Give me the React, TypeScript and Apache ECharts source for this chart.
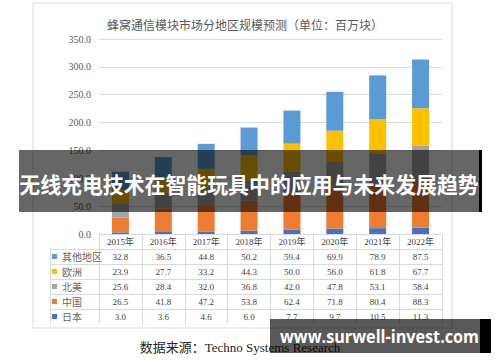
import React, { useEffect, useRef } from "react";
import * as echarts from "echarts";

const years = ["2015年", "2016年", "2017年", "2018年", "2019年", "2020年", "2021年", "2022年"];
const otherRegions = [32.8, 36.5, 44.8, 50.2, 59.4, 69.9, 78.9, 87.5];
const europe = [23.9, 27.7, 33.2, 44.3, 50.0, 56.0, 61.8, 67.7];
const northAmerica = [25.6, 28.4, 32.0, 36.8, 42.0, 47.8, 53.1, 58.4];
const china = [26.5, 41.8, 47.2, 53.8, 62.4, 71.8, 80.4, 88.3];
const japan = [3.0, 3.6, 4.6, 6.0, 7.7, 9.7, 10.5, 11.3];

const seriesNames = ["其他地区", "欧洲", "北美", "中国", "日本"];
const tableRows = [otherRegions, europe, northAmerica, china, japan];
const colors: Record<string, string> = {
  其他地区: "#5B9BD5",
  欧洲: "#FFC000",
  北美: "#A5A5A5",
  中国: "#ED7D31",
  日本: "#4472C4",
};
const stackOrder: [string, number[]][] = [
  ["日本", japan],
  ["中国", china],
  ["北美", northAmerica],
  ["欧洲", europe],
  ["其他地区", otherRegions],
];

const yTicks = { min: 0, max: 350, interval: 50 };
const titleText = "蜂窝通信模块市场分地区规模预测（单位：百万块）";
const sourceText = "数据来源：Techno Systems Research";
const bannerText = "无线充电技术在智能玩具中的应用与未来发展趋势";
const watermarkText = "www.surwell-invest.com";

const GRID_LEFT = 99;
const GRID_RIGHT = 442;
const AXIS_Y = 234;
const ROW_H = 15;
const TABLE_LEFT = 50;

export default function App() {
  const ref = useRef<HTMLDivElement>(null);
  useEffect(() => {
    document.body.style.margin = "0";
    const chart = echarts.init(ref.current!, undefined, { renderer: "svg" });
    const serif = "'Liberation Serif', 'Times New Roman', 'Noto Sans CJK SC', serif";
    const rowLines: any[] = [];
    for (let k = 1; k <= seriesNames.length; k++) {
      const y = AXIS_Y + k * ROW_H + 0.5;
      rowLines.push({
        type: "line",
        shape: { x1: TABLE_LEFT, y1: y, x2: GRID_RIGHT, y2: y },
        style: { stroke: "#d9d9d9", lineWidth: 1 },
        z: 5,
      });
    }
    rowLines.push({
      type: "line",
      shape: { x1: TABLE_LEFT + 0.5, y1: AXIS_Y + ROW_H, x2: TABLE_LEFT + 0.5, y2: AXIS_Y + ROW_H * 6 },
      style: { stroke: "#d9d9d9", lineWidth: 1 },
      z: 5,
    });

    const option: any = {
      animation: false,
      backgroundColor: "#ffffff",
      color: stackOrder.map(([n]) => colors[n]),
      title: {
        text: titleText,
        left: 240,
        top: 13,
        textAlign: "center",
        textStyle: { fontSize: 12, fontWeight: "normal", color: "#595959", fontFamily: "'Noto Sans CJK SC'" },
      },
      legend: {
        orient: "vertical",
        left: 52,
        top: AXIS_Y + ROW_H,
        itemWidth: 5,
        itemHeight: 5,
        itemGap: 0,
        itemTextGap: 2,
        icon: "rect",
        data: seriesNames,
        selectedMode: false,
        padding: 0,
        textStyle: { fontSize: 10, color: "#666666", lineHeight: ROW_H, fontFamily: "'Noto Sans CJK SC'" },
      },
      grid: { left: GRID_LEFT, right: 500 - GRID_RIGHT, top: 39, bottom: 362 - AXIS_Y },
      xAxis: {
        type: "category",
        data: years,
        axisLine: { show: true, lineStyle: { color: "#d9d9d9" } },
        axisTick: { show: true, length: ROW_H * 6, lineStyle: { color: "#d9d9d9" } },
        axisLabel: {
          margin: 0,
          interval: 0,
          formatter: (v: string, i: number) =>
            [`{y|${v}}`, ...tableRows.map((r) => `{v|${r[i].toFixed(1)}}`)].join("\n"),
          rich: {
            y: { fontSize: 9, lineHeight: ROW_H, color: "#404040", fontFamily: serif },
            v: { fontSize: 9, lineHeight: ROW_H, color: "#404040", fontFamily: serif },
          },
        },
      },
      yAxis: {
        type: "value",
        min: yTicks.min,
        max: yTicks.max,
        interval: yTicks.interval,
        axisLine: { show: false },
        axisTick: { show: false },
        splitLine: { lineStyle: { color: "#d9d9d9" } },
        axisLabel: {
          margin: 8,
          formatter: (v: number) => v.toFixed(1),
          fontSize: 10,
          color: "#595959",
          fontFamily: serif,
        },
      },
      series: stackOrder.map(([name, data]) => ({
        name,
        type: "bar",
        stack: "total",
        barWidth: 17,
        data,
        itemStyle: { color: colors[name] },
      })),
      graphic: [
        {
          type: "rect",
          shape: { x: 33, y: 3, width: 419, height: 325 },
          style: { fill: "none", stroke: "#d9d9d9", lineWidth: 1 },
          z: 1,
        },
        ...rowLines,
        {
          type: "text",
          x: 240,
          y: 347,
          style: {
            text: sourceText,
            fontSize: 13,
            fontFamily: serif,
            fill: "#262626",
            textAlign: "center",
            textVerticalAlign: "middle",
          },
          z: 5,
        },
        {
          type: "rect",
          shape: { x: 19, y: 150, width: 461, height: 62 },
          style: { fill: "rgba(0,0,0,0.6)" },
          z: 100,
        },
        {
          type: "rect",
          shape: { x: 479, y: 150, width: 3, height: 62 },
          style: { fill: "#000000" },
          z: 100,
        },
        {
          type: "text",
          x: 249,
          y: 183,
          scaleX: 0.95,
          style: {
            text: bannerText,
            fontSize: 22,
            fontWeight: "bold",
            fontFamily: "'Noto Sans CJK SC'",
            fill: "#ffffff",
            textAlign: "center",
            textVerticalAlign: "middle",
          },
          z: 101,
        },
        {
          type: "rect",
          shape: { x: 270, y: 319, width: 210, height: 34 },
          style: { fill: "rgba(0,0,0,0.65)" },
          z: 100,
        },
        {
          type: "rect",
          shape: { x: 480, y: 319, width: 11, height: 34 },
          style: { fill: "#000000" },
          z: 100,
        },
        {
          type: "text",
          x: 280,
          y: 336,
          scaleX: 0.9,
          style: {
            text: watermarkText,
            fontSize: 18,
            fontWeight: "bold",
            fontFamily: "'Open Sans'",
            fill: "#ffffff",
            textAlign: "left",
            textVerticalAlign: "middle",
          },
          z: 101,
        },
      ],
    };
    chart.setOption(option);
    return () => chart.dispose();
  }, []);
  return <div ref={ref} style={{ position: "fixed", left: 0, top: 0, width: 500, height: 362 }} />;
}
